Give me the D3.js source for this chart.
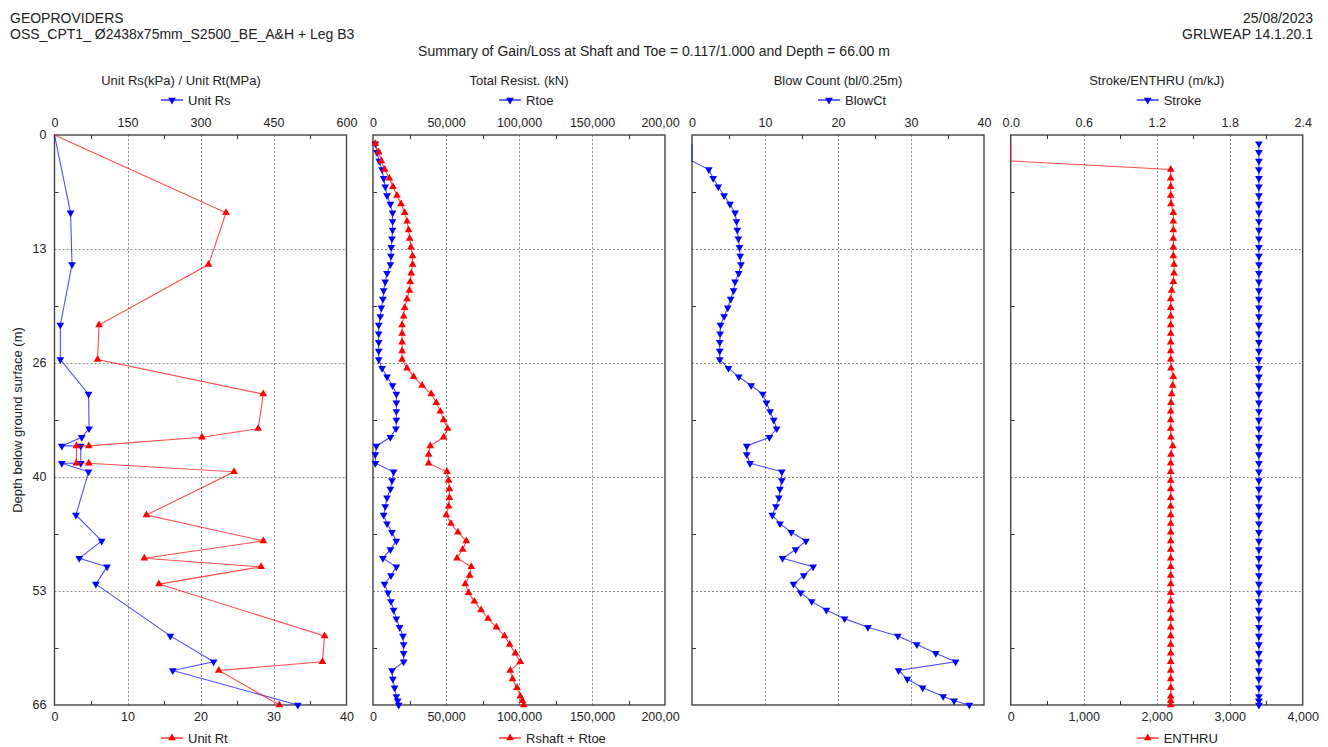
<!DOCTYPE html>
<html><head><meta charset="utf-8">
<script src="https://cdn.jsdelivr.net/npm/d3@7"></script>
<style>
body{margin:0;background:#fff}
text{font-family:"Liberation Sans",Arial,sans-serif;fill:#222}
</style></head>
<body><svg id="c" width="1328" height="747"></svg>
<script>
// ---------- DATA ----------
const depthTicks = [0, 13.2, 26.4, 39.6, 52.8, 66];
const depthLabels = ["0", "13", "26", "40", "53", "66"];

// Panel 1: unit resistance at layer boundaries
const depthP1 = [0, 9, 15, 22, 26, 30, 34, 35, 36, 36, 38, 38, 39, 44, 47, 49, 50, 52, 58, 61, 62, 66];
const unitRs = [0, 33, 36, 12, 12, 70, 71, 56, 15, 54, 54, 15, 70, 44, 97, 51, 108, 85, 238, 327, 243, 500];
const unitRt = [0, 23.5, 21.1, 6.1, 5.9, 28.6, 27.9, 20.2, 4.7, 3.0, 3.0, 4.7, 24.6, 12.6, 28.6, 12.3, 28.3, 14.3, 37.0, 36.7, 22.5, 30.8];

// Panels 2-4: driveability results
const depth = [1,2,3,4,5,6,7,8,9,10,11,12,13,14,15,16,17,18,19,20,21,22,23,24,25,26,27,28,29,30,
  31,32,33,34,35,36,37,38,39,40,41,42,43,44,45,46,47,48,49,50,51,52,53,54,55,56,57,58,59,60,
  61,62,63,64,65,65.5,66];
const rToe = [1600,2700,4300,6200,7300,8400,9600,11900,13400,13400,13400,13000,12500,12300,11900,9600,8400,7300,6800,5700,
  5000,3900,3900,3900,3900,3900,6200,9600,13400,16000,16000,16000,16000,15700,11900,2300,1600,1600,14100,13000,
  11900,9600,8400,7300,9600,13000,16000,11900,6800,16000,12300,7900,10300,12300,14100,16000,18200,20500,21000,21000,
  21000,13000,13600,14800,16000,16900,17600];
const rTotal = [1600,3900,5700,8000,11200,13700,16400,19200,21700,23300,24400,25100,26000,27100,27100,26200,25500,24900,23300,21700,
  21000,19900,19900,19900,19900,19900,23300,27800,33600,39900,43400,46100,48400,51100,48400,39200,38100,38100,50700,51800,
  52300,52300,51800,50200,53400,58200,63900,61400,57500,67300,66200,63200,65500,69400,74000,78800,84500,90100,93600,97500,
  100900,94000,95600,98600,100900,102300,103300];
const blowCt = [0,0,0,2.3,2.9,3.6,4.4,5.2,5.9,6.1,6.2,6.35,6.5,6.6,6.7,6.4,5.9,5.7,5.3,4.9,
  4.4,3.9,3.85,3.8,3.8,3.8,5.0,6.4,8.1,9.7,10.2,10.7,11.2,11.6,10.6,7.5,7.5,7.95,12.3,12.3,
  12.05,11.9,11.5,11.0,12.05,13.6,15.6,14.2,12.4,16.6,15.3,13.9,14.9,16.4,18.4,20.9,24.1,28.2,30.8,33.4,
  36.1,28.3,29.5,31.6,34.4,35.9,38.0];
const strokeM = [2.04,2.04,2.04,2.04,2.04,2.04,2.04,2.04,2.04,2.04,2.04,2.04,2.04,2.04,2.04,2.04,2.04,2.04,2.04,2.04,
  2.04,2.04,2.04,2.04,2.04,2.04,2.04,2.04,2.04,2.04,2.04,2.04,2.04,2.04,2.04,2.04,2.04,2.04,2.04,2.04,
  2.04,2.04,2.04,2.04,2.04,2.04,2.04,2.04,2.04,2.04,2.04,2.04,2.04,2.04,2.04,2.04,2.04,2.04,2.04,2.04,
  2.04,2.04,2.04,2.04,2.04,2.04,2.04];
const enthru = [0,0,0,2192,2192,2192,2192,2196,2228,2228,2228,2228,2228,2228,2237,2237,2228,2205,2192,2192,
  2192,2192,2192,2192,2192,2192,2196,2228,2219,2205,2196,2192,2192,2192,2196,2219,2196,2192,2192,2192,
  2192,2192,2192,2192,2192,2192,2192,2192,2192,2192,2192,2192,2192,2192,2192,2192,2192,2192,2192,2192,
  2192,2192,2192,2192,2192,2192,2192];

// tick values / labels
const p1TopTicks = [0,150,300,450,600], p1TopLabels = ["0","150","300","450","600"];
const p1BotTicks = [0,10,20,30,40], p1BotLabels = ["0","10","20","30","40"];
const p2Ticks = [0,50000,100000,150000,200000], p2Labels = ["0","50,000","100,000","150,000","200,00"];
const p3Ticks = [0,10,20,30,40], p3Labels = ["0","10","20","30","40"];
const p4TopTicks = [0,0.6,1.2,1.8,2.4], p4TopLabels = ["0.0","0.6","1.2","1.8","2.4"];
const p4BotTicks = [0,1000,2000,3000,4000], p4BotLabels = ["0","1,000","2,000","3,000","4,000"];

// ---------- LAYOUT ----------
const svg = d3.select("#c");
const W = 292, TOP = 135, BOT = 705;
const y = d3.scaleLinear().domain([0, 66]).range([TOP, BOT]);
const BLUE = "#0000ff", RED = "#ff0000";

// header
const hdr = svg.append("g").style("font-size", "14px");
hdr.append("text").attr("x", 10).attr("y", 23).text("GEOPROVIDERS");
hdr.append("text").attr("x", 10).attr("y", 39).text("OSS_CPT1_ Ø2438x75mm_S2500_BE_A&H + Leg B3");
hdr.append("text").attr("x", 1313).attr("y", 23).attr("text-anchor", "end").text("25/08/2023");
hdr.append("text").attr("x", 1313).attr("y", 39).attr("text-anchor", "end").text("GRLWEAP 14.1.20.1");
hdr.append("text").attr("x", 654).attr("y", 56).attr("text-anchor", "middle")
  .text("Summary of Gain/Loss at Shaft and Toe = 0.117/1.000 and Depth = 66.00 m");

svg.append("text").attr("transform", "translate(22,420) rotate(-90)").attr("text-anchor", "middle")
  .style("font-size", "13px").text("Depth below ground surface (m)");

const mk = (a, b) => a.map((v, i) => ({ d: b[i], v }));

const panels = [
  { x0: 54.5, title: "Unit Rs(kPa) / Unit Rt(MPa)", tcx: 181,
    top: { domain: [0, 600], ticks: p1TopTicks, labels: p1TopLabels },
    bot: { domain: [0, 40], ticks: p1BotTicks, labels: p1BotLabels, minor: true },
    series: [
      { data: mk(unitRs, depthP1), axis: "top", color: BLUE, dir: "down", name: "Unit Rs" },
      { data: mk(unitRt, depthP1), axis: "bot", color: RED, dir: "up", name: "Unit Rt" }],
    yLabels: true },
  { x0: 373, title: "Total Resist. (kN)",
    top: { domain: [0, 200000], ticks: p2Ticks, labels: p2Labels },
    bot: { domain: [0, 200000], ticks: p2Ticks, labels: p2Labels, minor: true },
    series: [
      { data: mk(rToe, depth), axis: "top", color: BLUE, dir: "down", name: "Rtoe" },
      { data: mk(rTotal, depth), axis: "bot", color: RED, dir: "up", name: "Rshaft + Rtoe" }] },
  { x0: 692, title: "Blow Count (bl/0.25m)",
    top: { domain: [0, 40], ticks: p3Ticks, labels: p3Labels },
    bot: null,
    series: [
      { data: mk(blowCt, depth), axis: "top", color: BLUE, dir: "down", name: "BlowCt" }] },
  { x0: 1010.7, title: "Stroke/ENTHRU (m/kJ)",
    top: { domain: [0, 2.4], ticks: p4TopTicks, labels: p4TopLabels },
    bot: { domain: [0, 4000], ticks: p4BotTicks, labels: p4BotLabels, minor: true },
    series: [
      { data: mk(strokeM, depth), axis: "top", color: BLUE, dir: "down", name: "Stroke" },
      { data: mk(enthru, depth), axis: "bot", color: RED, dir: "up", name: "ENTHRU" }] }
];

const tri = d3.symbol(d3.symbolTriangle, 26);

panels.forEach((p, pi) => {
  const g = svg.append("g");
  const x0 = p.x0, x1 = p.x0 + W;
  const xTop = d3.scaleLinear().domain(p.top.domain).range([x0, x1]);
  const xBot = p.bot ? d3.scaleLinear().domain(p.bot.domain).range([x0, x1]) : xTop;
  const tcx = p.tcx || (x0 + W / 2);

  // grid
  const grid = g.append("g").attr("stroke", "#8a8a8a").attr("stroke-width", 1).attr("stroke-dasharray", "2,2");
  p.top.ticks.slice(1, -1).forEach(t => grid.append("line")
    .attr("x1", Math.round(xTop(t)) + 0.5).attr("x2", Math.round(xTop(t)) + 0.5).attr("y1", TOP).attr("y2", BOT));
  depthTicks.slice(1, -1).forEach(t => grid.append("line")
    .attr("x1", x0).attr("x2", x1).attr("y1", Math.round(y(t)) + 0.5).attr("y2", Math.round(y(t)) + 0.5));

  // minor ticks (inward)
  const mt = g.append("g").attr("stroke", "#333").attr("stroke-width", 1);
  d3.pairs(p.top.ticks).forEach(([a, b]) => {
    const xx = Math.round(xTop((a + b) / 2)) + 0.5;
    mt.append("line").attr("x1", xx).attr("x2", xx).attr("y1", TOP).attr("y2", TOP + 4);
  });
  if (p.bot && p.bot.minor) d3.pairs(p.bot.ticks).forEach(([a, b]) => {
    const xx = Math.round(xBot((a + b) / 2)) + 0.5;
    mt.append("line").attr("x1", xx).attr("x2", xx).attr("y1", BOT).attr("y2", BOT - 4);
  });
  d3.pairs(depthTicks).forEach(([a, b]) => {
    const yy = Math.round(y((a + b) / 2)) + 0.5;
    mt.append("line").attr("x1", x0).attr("x2", x0 + 4).attr("y1", yy).attr("y2", yy);
  });

  // frame
  g.append("rect").attr("x", x0).attr("y", TOP).attr("width", W).attr("height", BOT - TOP)
    .attr("fill", "none").attr("stroke", "#444").attr("stroke-width", 1.4);

  // axes labels
  const ax = g.append("g").attr("transform", `translate(0,${TOP})`)
    .call(d3.axisTop(xTop).tickValues(p.top.ticks).tickFormat((d, i) => p.top.labels[i]).tickSize(0).tickPadding(8));
  ax.select(".domain").remove();
  ax.selectAll("text").style("font-size", "12.5px").attr("fill", "#222").style("font-family", '"Liberation Sans",Arial,sans-serif');
  if (p.bot) {
    const bx = g.append("g").attr("transform", `translate(0,${BOT})`)
      .call(d3.axisBottom(xBot).tickValues(p.bot.ticks).tickFormat((d, i) => p.bot.labels[i]).tickSize(0).tickPadding(7));
    bx.select(".domain").remove();
    bx.selectAll("text").style("font-size", "12.5px").attr("fill", "#222").style("font-family", '"Liberation Sans",Arial,sans-serif');
    if (pi === 1) bx.selectAll(".tick:last-of-type text").attr("dx", -5);
  }
  if (pi === 1) ax.selectAll(".tick:last-of-type text").attr("dx", -5);

  if (p.yLabels) {
    depthTicks.forEach((t, i) => g.append("text").attr("x", x0 - 8).attr("y", y(t)).attr("dy", "0.35em")
      .attr("text-anchor", "end").style("font-size", "12.5px").text(depthLabels[i]));
  }

  // title
  g.append("text").attr("x", tcx).attr("y", 85).attr("text-anchor", "middle").style("font-size", "13px").text(p.title);

  // series
  p.series.forEach(s => {
    const xs = s.axis === "top" ? xTop : xBot;
    g.append("path").datum(s.data)
      .attr("d", d3.line().x(d => xs(d.v)).y(d => y(d.d)))
      .attr("fill", "none").attr("stroke", s.color).attr("stroke-opacity", 0.7).attr("stroke-width", 1.1);
    g.append("g").selectAll("path").data(s.data.filter(d => d.v > 0 && d.d > 0)).join("path")
      .attr("d", tri)
      .attr("transform", d => `translate(${xs(d.v)},${y(d.d)})` + (s.dir === "down" ? " rotate(180)" : ""))
      .attr("fill", s.color);
    // legend
    const ly = s.axis === "top" ? 100 : 738;
    const lc = tcx + 2;
    const lg = g.append("g");
    lg.append("line").attr("x1", lc - 22).attr("x2", lc).attr("y1", ly).attr("y2", ly)
      .attr("stroke", s.color).attr("stroke-width", 1.2);
    lg.append("path").attr("d", tri).attr("fill", s.color)
      .attr("transform", `translate(${lc - 11},${ly})` + (s.dir === "down" ? " rotate(180)" : ""));
    lg.append("text").attr("x", lc + 5).attr("y", ly + 4.5).style("font-size", "13px").text(s.name);
  });
});
</script>
</body></html>
